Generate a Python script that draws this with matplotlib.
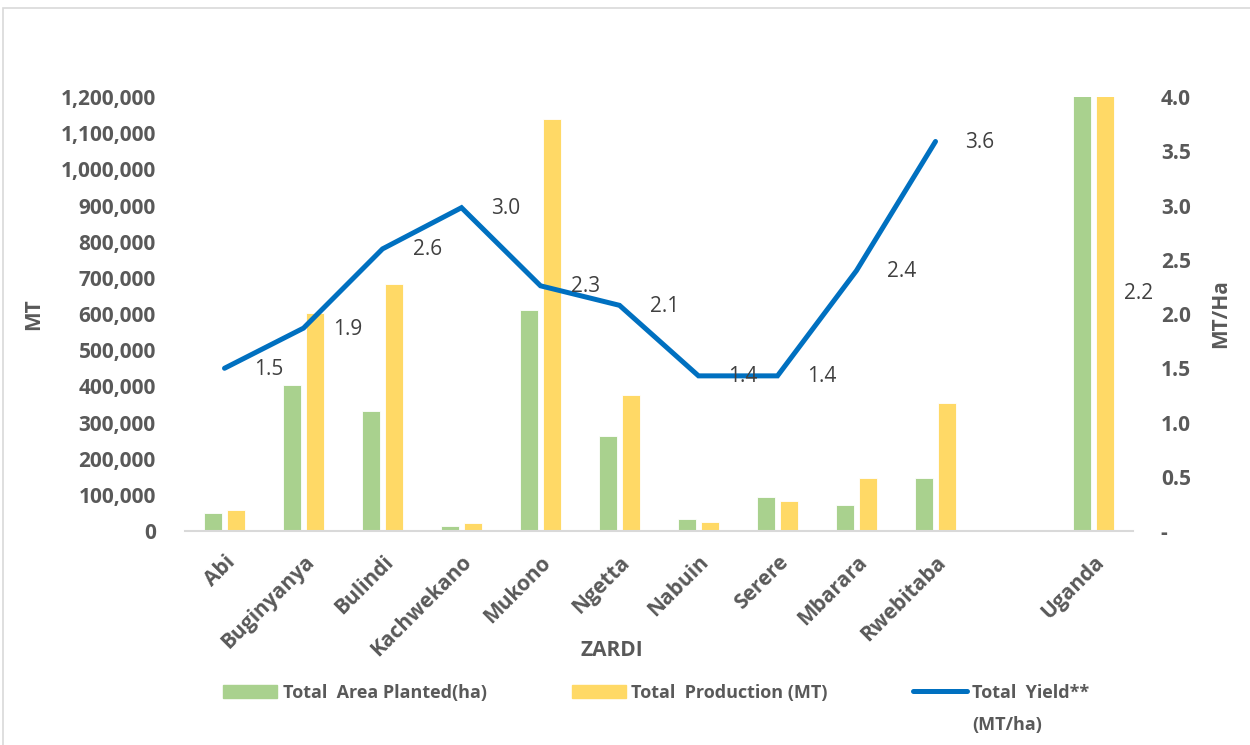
import numpy as np
import matplotlib
matplotlib.use('Agg')
import matplotlib.pyplot as plt
from matplotlib.ticker import FuncFormatter, MultipleLocator
from matplotlib.lines import Line2D

plt.rcParams['font.family'] = ['Open Sans', 'DejaVu Sans']

# data
zardi = ['Abi', 'Buginyanya', 'Bulindi', 'Kachwekano', 'Mukono', 'Ngetta',
         'Nabuin', 'Serere', 'Mbarara', 'Rwebitaba', '', 'Uganda']
area_ha = [51000, 403000, 332000, 13000, 610000, 264000,
           33000, 93000, 73000, 148000, np.nan, 1500000]
production_mt = [58000, 603000, 684000, 23000, 1138000, 377000,
                 25000, 82000, 148000, 355000, np.nan, 3300000]
yield_mt_ha = [1.5, 1.87, 2.6, 2.98, 2.26, 2.08, 1.43, 1.43, 2.4, 3.59, np.nan, 2.2]

green = '#A9D18E'
yellow = '#FFD966'
blue = '#0070C0'
grey = '#595959'

fig = plt.figure(figsize=(12.5, 7.45), dpi=100)
ax = fig.add_axes([0.148, 0.2872, 0.7584, 0.5826])
ax2 = ax.twinx()

x = np.arange(len(zardi))
w = 0.23
ax.bar(x - 0.145, area_ha, w, color=green, edgecolor='white', linewidth=0.6)
ax.bar(x + 0.145, production_mt, w, color=yellow, edgecolor='white', linewidth=0.6)
ax.set_xlim(-0.5, len(zardi) - 0.5)
ax.set_ylim(0, 1200000)
ax.yaxis.set_major_locator(MultipleLocator(100000))
ax.yaxis.set_major_formatter(FuncFormatter(lambda v, p: f'{v:,.0f}'))

ax2.plot(x, yield_mt_ha, color=blue, lw=3.6, solid_capstyle='round',
         solid_joinstyle='miter')
ax2.set_ylim(0, 4)
ax2.yaxis.set_major_locator(MultipleLocator(0.5))
ax2.yaxis.set_major_formatter(FuncFormatter(lambda v, p: '-' if abs(v) < 1e-9 else f'{v:.1f}'))

for xi, yv in zip(x, yield_mt_ha):
    if np.isnan(yv):
        continue
    ax2.annotate(f'{yv:.1f}', (xi, yv), xytext=(30, -1), textcoords='offset pixels',
                 ha='left', va='center', fontsize=15, color='#404040')

for a in (ax, ax2):
    for s in a.spines.values():
        s.set_visible(False)
    a.tick_params(axis='y', length=0, labelsize=15, labelcolor=grey)
ax.spines['bottom'].set_visible(True)
ax.spines['bottom'].set_color('#D9D9D9')
ax.spines['bottom'].set_linewidth(1.5)
ax.tick_params(axis='y', pad=21)
ax2.tick_params(axis='y', pad=20)
for t in ax.get_yticklabels() + ax2.get_yticklabels():
    t.set_fontweight('bold')

ax.set_xticks(x)
ax.set_xticklabels(zardi, rotation=45, ha='right', rotation_mode='anchor',
                   fontsize=15, fontweight='bold', color=grey)
ax.tick_params(axis='x', length=0, pad=15)

ax.set_ylabel('MT', fontsize=15, fontweight='bold', color=grey, labelpad=12)
ax2.set_ylabel('MT/Ha', fontsize=15, fontweight='bold', color=grey, labelpad=14)
ax.set_xlabel('ZARDI', fontsize=15, fontweight='bold', color=grey)
ax.xaxis.set_label_coords(0.45, -0.25)

handles = [plt.Rectangle((0, 0), 1, 1, color=green),
           plt.Rectangle((0, 0), 1, 1, color=yellow),
           Line2D([], [], color=blue, lw=3.6, solid_capstyle='round')]
labels = ['Total  Area Planted(ha)', 'Total  Production (MT)', 'Total  Yield**']
leg = fig.legend(handles, labels, loc='center', bbox_to_anchor=(0.525, 0.07), ncol=3,
                 frameon=False, handlelength=3.0, handleheight=0.8, handletextpad=0.3,
                 columnspacing=4.7,
                 prop={'size': 13, 'weight': 'bold'})
for t in leg.get_texts():
    t.set_color(grey)

fig.canvas.draw()
bb = leg.get_texts()[2].get_window_extent()
fig.text(bb.x0 / fig.bbox.width, (bb.y0 - 14) / fig.bbox.height, '(MT/ha)',
         ha='left', va='top', fontsize=13, fontweight='bold', color=grey)

# chart area border
fig.add_artist(plt.Rectangle((3 / 1250, -0.1), 1.1, 1.1 - 8 / 745,
                             transform=fig.transFigure, fill=False,
                             edgecolor='#D9D9D9', lw=1.2))

fig.savefig('out.png', dpi=100, facecolor='white')
